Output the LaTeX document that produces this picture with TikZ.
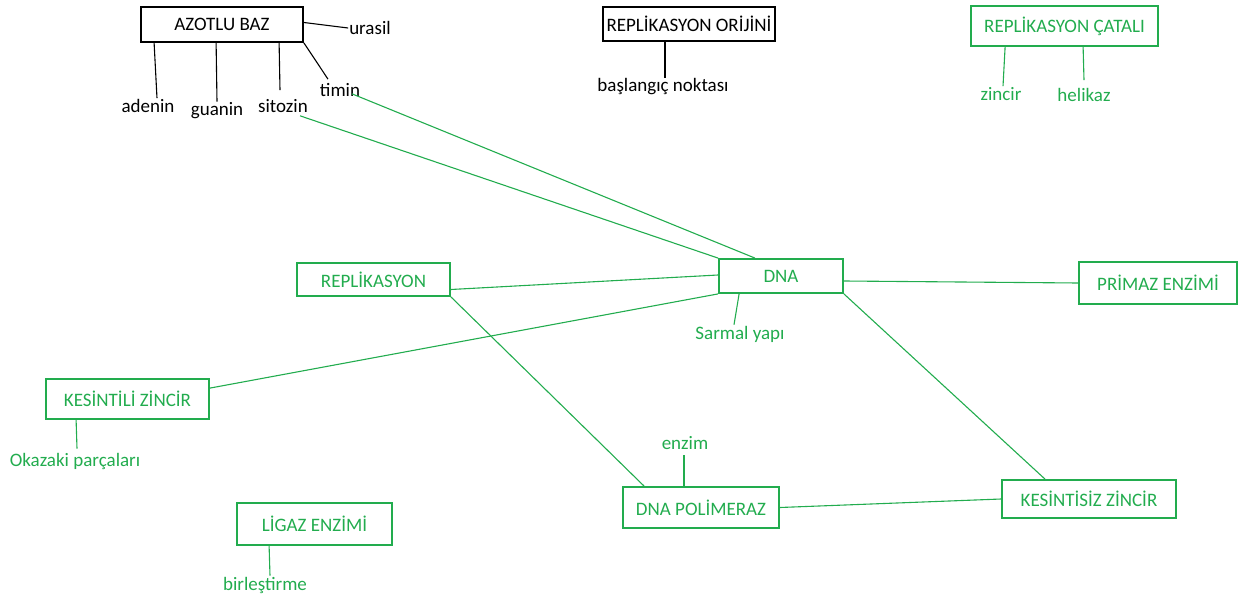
\documentclass[tikz,border=0pt]{standalone}
\usepackage{fontspec}
\setmainfont{Carlito}
\definecolor{gr}{RGB}{34,172,78}
\begin{document}
\begin{tikzpicture}[x=1pt,y=-1pt,
  every node/.style={font=\fontsize{19}{22}\selectfont, inner sep=1pt},
  bbox/.style={draw=black, line width=1.8pt, inner sep=0pt},
  gbox/.style={draw=gr, text=gr, line width=1.8pt, inner sep=0pt},
  blab/.style={text=black},
  glab/.style={text=gr},
  bl/.style={draw=black, line width=1.1pt},
  gl/.style={draw=gr, line width=1.1pt}]
\useasboundingbox (0,0) rectangle (1241,604);
% boxes
\node[bbox, minimum width=162pt, minimum height=35pt] (azot) at (222,24.5) {AZOTLU BAZ};
\node[bbox, minimum width=172pt, minimum height=34pt] (orijin) at (689,24) {REPLİKASYON ORİJİNİ};
\node[gbox, minimum width=187pt, minimum height=40pt] (catal) at (1064.5,26) {REPLİKASYON ÇATALI};
\node[gbox, minimum width=153pt, minimum height=33pt] (repl) at (373.5,279.5) {REPLİKASYON};
\node[gbox, minimum width=124pt, minimum height=34pt] (dna) at (781,276) {DNA};
\node[gbox, minimum width=158pt, minimum height=42pt] (primaz) at (1158,283) {PRİMAZ ENZİMİ};
\node[gbox, minimum width=163pt, minimum height=40pt] (kesintili) at (127.5,399) {KESİNTİLİ ZİNCİR};
\node[gbox, minimum width=156pt, minimum height=41pt] (polim) at (701,507.5) {DNA POLİMERAZ};
\node[gbox, minimum width=174pt, minimum height=38pt] (kesintisiz) at (1089,499) {KESİNTİSİZ ZİNCİR};
\node[gbox, minimum width=155pt, minimum height=42pt] (ligaz) at (314.5,524) {LİGAZ ENZİMİ};
% labels
\node[blab] (urasil) at (370,28) {urasil};
\node[blab] (adenin) at (148,106) {adenin};
\node[blab] (guanin) at (217,111) {guanin};
\node[blab] (sitozin) at (283,106) {sitozin};
\node[blab] (timin) at (340,90) {timin};
\node[blab] (basl) at (663,87) {başlangıç noktası};
\node[glab] (zincir) at (1001,94) {zincir};
\node[glab] (helikaz) at (1084,95) {helikaz};
\node[glab] (sarmal) at (740,334) {Sarmal yapı};
\node[glab] (okazaki) at (75,461) {Okazaki parçaları};
\node[glab] (enzim) at (685,443) {enzim};
\node[glab] (birles) at (265,585) {birleştirme};
% black label lines
\draw[bl] ([yshift=2pt]azot.east) -- (urasil.west);
\draw[bl] ([xshift=14pt]azot.south west) -- ([xshift=9pt]adenin.north);
\draw[bl] ([xshift=76pt]azot.south west) -- (guanin.north);
\draw[bl] ([xshift=139pt]azot.south west) -- ([xshift=-3pt,yshift=8pt]sitozin.north);
\draw[bl] (azot.south east) -- ([xshift=-12pt,yshift=3pt]timin.north);
\draw[bl] ([xshift=-24pt]orijin.south) -- ([xshift=2pt]basl.north);
% green label lines
\draw[gl] ([xshift=35pt]catal.south west) -- ([xshift=2pt]zincir.north);
\draw[gl] ([xshift=113pt]catal.south west) -- ([yshift=7pt]helikaz.north);
\draw[gl] ([xshift=21pt]dna.south west) -- ([xshift=-6pt]sarmal.north);
\draw[gl] ([xshift=31pt]kesintili.south west) -- ([xshift=2pt,yshift=3pt]okazaki.north);
\draw[gl] ([xshift=-17pt]polim.north) -- ([xshift=-1pt,yshift=-4pt]enzim.south);
\draw[gl] ([xshift=33pt]ligaz.south west) -- ([xshift=5pt]birles.north);
% connectors
\draw[gl] ([xshift=12pt,yshift=4pt]timin.south) -- ([xshift=-26pt]dna.north);
\draw[gl] ([xshift=17pt,yshift=-2pt]sitozin.south) -- (dna.north west);
\draw[gl] ([yshift=-10pt]repl.east) -- ([yshift=1pt]dna.west);
\draw[gl] ([yshift=-10pt]kesintili.north east) -- (dna.south west);
\draw[gl] (repl.south east) -- ([xshift=22pt]polim.north west);
\draw[gl] ([yshift=-5pt]dna.east) -- (primaz.west);
\draw[gl] (dna.south east) -- ([xshift=-44pt]kesintisiz.north);
\draw[gl] (polim.east) -- (kesintisiz.west);
\end{tikzpicture}
\end{document}
